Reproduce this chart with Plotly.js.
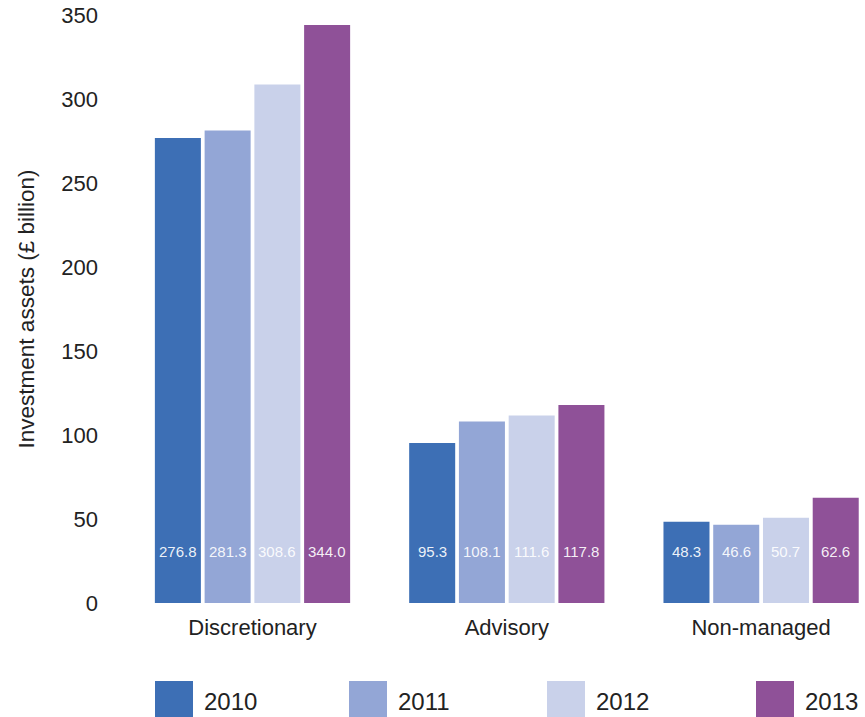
<!DOCTYPE html>
<html>
<head>
<meta charset="utf-8">
<script src="https://cdn.plot.ly/plotly-3.0.1.min.js"></script>
<style>html,body{margin:0;padding:0;background:#fff}#chart{width:865px;height:717px}</style>
</head>
<body>
<div id="chart"></div>
<script>
const categories = ["Discretionary", "Advisory", "Non-managed"];
const years = ["2010", "2011", "2012", "2013"];
const values2010 = [276.8, 95.3, 48.3];
const values2011 = [281.3, 108.1, 46.6];
const values2012 = [308.6, 111.6, 50.7];
const values2013 = [344.0, 117.8, 62.6];
const yTicks = [0, 50, 100, 150, 200, 250, 300, 350];
const colors = ["#3d6fb5", "#93a6d6", "#c9d1ea", "#8f5198"];

const series = [values2010, values2011, values2012, values2013];
const W = 865, H = 717;
const M = {l: 130, r: 0, t: 15, b: 114};
const plotW = W - M.l - M.r, plotH = H - M.t - M.b;
const pxPerCat = 254.3;
const firstCenterPx = 252.5;
const r0 = -(firstCenterPx - M.l) / pxPerCat;
const r1 = r0 + plotW / pxPerCat;
const bargap = 0.2175;
const fontFam = "Liberation Sans, Arial, Helvetica, sans-serif";

const traces = series.map((vals, i) => ({
  type: "bar",
  name: years[i],
  x: categories,
  y: vals,
  marker: {color: colors[i], line: {width: 0}},
  hoverinfo: "y+name",
  showlegend: false
}));

const annotations = [];
const slot = (1 - bargap) / years.length;
series.forEach((vals, si) => {
  vals.forEach((v, ci) => {
    annotations.push({
      x: ci + (si - (years.length - 1) / 2) * slot,
      y: 30.6,
      xref: "x", yref: "y",
      text: v.toFixed(1),
      showarrow: false,
      font: {family: fontFam, size: 15, color: "rgba(255,255,255,0.92)"},
      xanchor: "center", yanchor: "middle"
    });
  });
});

// custom legend (large square swatches)
const legendLeftPx = [155, 349, 547, 756];
const sw = 38, swTop = 681, swBot = 717;
const toPX = px => (px - M.l) / plotW;
const toPY = py => (M.t + plotH - py) / plotH;
const shapes = [];
years.forEach((yr, i) => {
  shapes.push({
    type: "rect", xref: "paper", yref: "paper",
    x0: toPX(legendLeftPx[i]), x1: toPX(legendLeftPx[i] + sw),
    y0: toPY(swBot), y1: toPY(swTop),
    fillcolor: colors[i], line: {width: 0}
  });
  annotations.push({
    xref: "paper", yref: "paper",
    x: toPX(legendLeftPx[i] + sw + 9), y: toPY(701),
    text: yr, showarrow: false,
    xanchor: "left", yanchor: "middle",
    font: {family: fontFam, size: 24, color: "#222"}
  });
});

const layout = {
  width: W, height: H,
  margin: M,
  paper_bgcolor: "#fff", plot_bgcolor: "#fff",
  barmode: "group",
  bargap: bargap,
  bargroupgap: 0.075,
  showlegend: false,
  font: {family: fontFam, color: "#222"},
  xaxis: {
    type: "category",
    range: [r0, r1],
    showgrid: false, zeroline: false, showline: false,
    ticks: "",
    ticklabelstandoff: 9,
    tickfont: {family: fontFam, size: 22, color: "#222"},
    fixedrange: true
  },
  yaxis: {
    range: [0, 350],
    tickvals: yTicks,
    ticktext: yTicks.map(String),
    showgrid: false, zeroline: false, showline: false,
    ticks: "",
    ticklabelstandoff: 31,
    tickfont: {family: fontFam, size: 22, color: "#222"},
    title: {text: "Investment assets (£ billion)", standoff: 20,
            font: {family: fontFam, size: 22.5, color: "#222"}},
    fixedrange: true
  },
  annotations: annotations,
  shapes: shapes
};

Plotly.newPlot("chart", traces, layout, {displayModeBar: false, staticPlot: true});
</script>
</body>
</html>
